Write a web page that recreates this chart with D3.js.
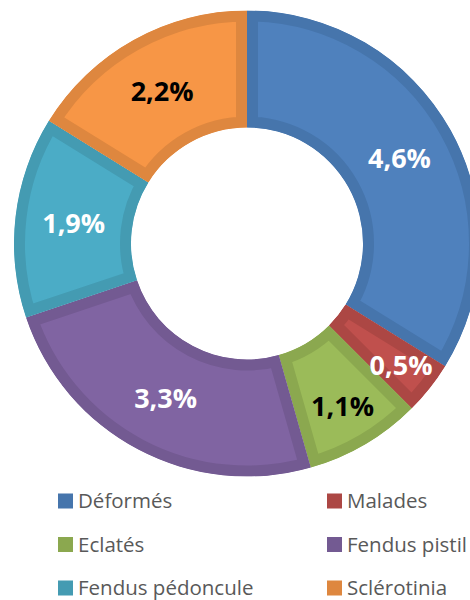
<!DOCTYPE html>
<meta charset="utf-8">
<style>
body { margin: 0; background: #fff; }
.legend text {
  font: 20.5px "Open Sans", sans-serif;
  fill: #595959;
}
.label {
  font: bold 27px "Open Sans", sans-serif;
  text-anchor: middle;
}
</style>
<svg width="470" height="600"></svg>
<script src="https://cdn.jsdelivr.net/npm/d3@7"></script>
<script>

// categories and values (percent)
var categories = ["Déformés", "Malades", "Eclatés", "Fendus pistil", "Fendus pédoncule", "Sclérotinia"];
var values = [4.6, 0.5, 1.1, 3.3, 1.9, 2.2];
var labels = ["4,6%", "0,5%", "1,1%", "3,3%", "1,9%", "2,2%"];

var fills   = ["#4F81BD", "#C0504D", "#9BBB59", "#8064A2", "#4BACC6", "#F79646"];
var borders = ["#4675AC", "#AC4744", "#8BA84F", "#735A92", "#449BB2", "#DE873F"];

var svg = d3.select("svg"),
    cx = 247, cy = 243.5,
    outer = 233, inner = 116;

var data = categories.map(function(c, i) { return {name: c, value: values[i], label: labels[i], i: i}; });

var pie = d3.pie().sort(null).value(function(d) { return d.value; });
var arc = d3.arc().innerRadius(inner).outerRadius(outer);

var g = svg.append("g").attr("transform", "translate(" + cx + "," + cy + ")");
var defs = svg.append("defs");

var arcs = pie(data);

// each slice clipped to itself so the wide stroke only shows inside
arcs.forEach(function(d) {
  defs.append("clipPath").attr("id", "clip" + d.data.i)
    .append("path").attr("d", arc(d));
});

g.selectAll(".slice")
  .data(arcs)
  .enter().append("path")
    .attr("class", "slice")
    .attr("d", arc)
    .attr("clip-path", function(d) { return "url(#clip" + d.data.i + ")"; })
    .attr("fill", function(d) { return fills[d.data.i]; })
    .attr("stroke", function(d) { return borders[d.data.i]; })
    .attr("stroke-width", 22)
    .attr("stroke-linejoin", "miter");

// labels: centroid, pushed outwards on narrow slices
var mid = (inner + outer) / 2;
g.selectAll(".label")
  .data(arcs)
  .enter().append("text")
    .attr("class", "label")
    .attr("transform", function(d) {
      var span = d.endAngle - d.startAngle;
      var r = mid + (span < 0.6 ? 28.6 * (1 - span) : 0);
      var a = (d.startAngle + d.endAngle) / 2;
      return "translate(" + (r * Math.sin(a)) + "," + (-r * Math.cos(a)) + ")";
    })
    .attr("dy", "0.36em")
    .attr("fill", function(d) { return d3.lab(fills[d.data.i]).l > 68 ? "#000" : "#fff"; })
    .text(function(d) { return d.data.label; });

// legend, two columns
var colX = d3.scalePoint().domain([0, 1]).range([58, 327]);
var rowY = d3.scalePoint().domain([0, 1, 2]).range([501, 588]);

var item = svg.append("g").attr("class", "legend")
  .selectAll("g")
  .data(data)
  .enter().append("g")
    .attr("transform", function(d) {
      return "translate(" + colX(d.i % 2) + "," + rowY(Math.floor(d.i / 2)) + ")";
    });

item.append("rect")
    .attr("y", -7.5)
    .attr("width", 15)
    .attr("height", 15)
    .attr("fill", function(d) { return borders[d.i]; });

item.append("text")
    .attr("x", 20)
    .attr("dy", "0.35em")
    .text(function(d) { return d.name; });

</script>
